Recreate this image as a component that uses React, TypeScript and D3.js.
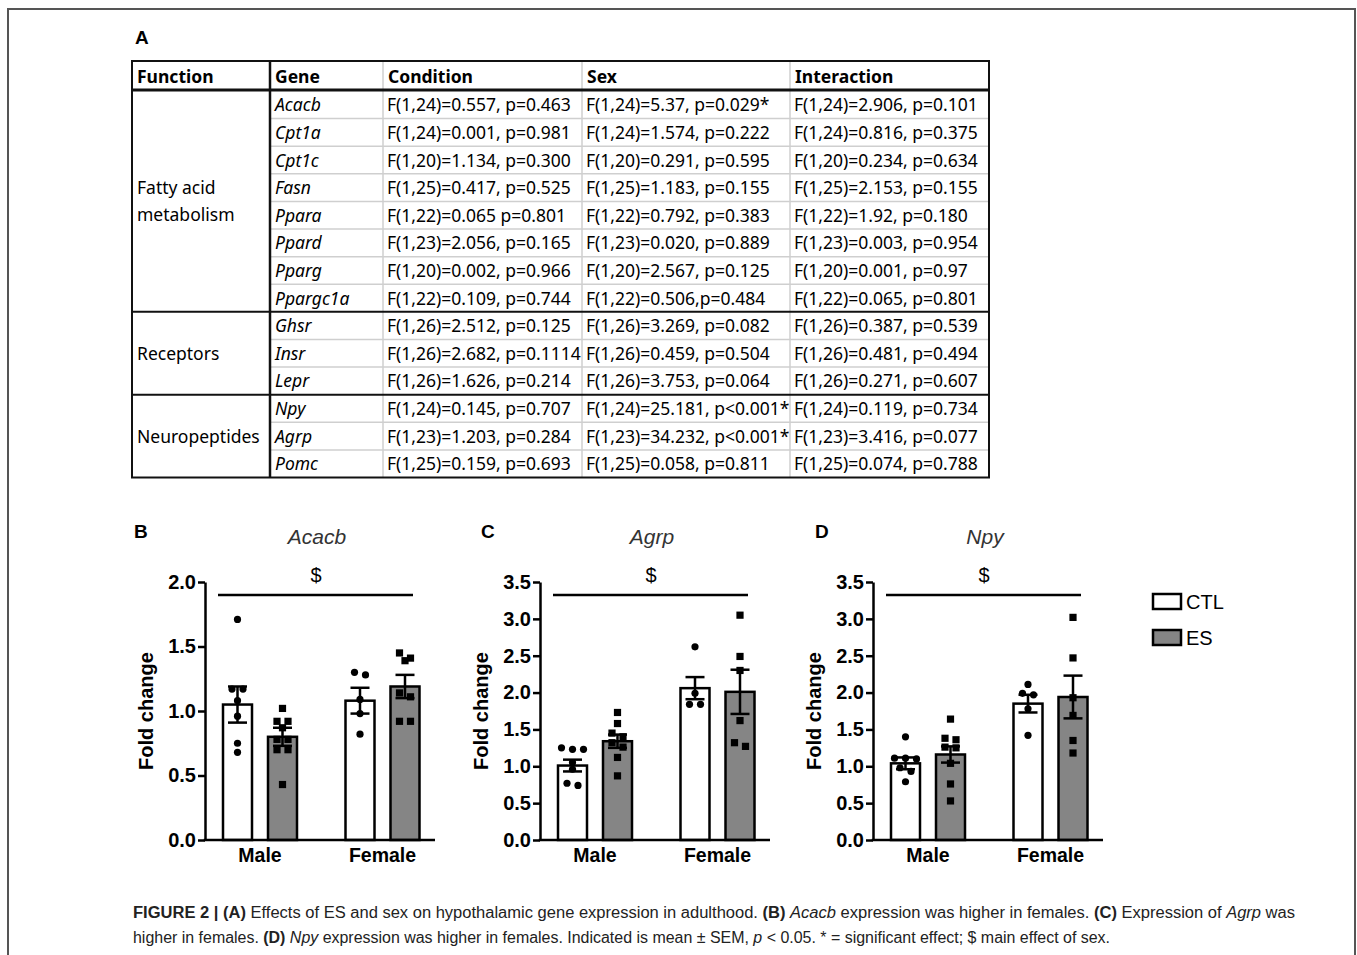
import { useEffect, useRef } from 'react';
import * as d3 from 'd3';

// ---- Table (panel A) ----
const TABLE_HEADERS = ['Function', 'Gene', 'Condition', 'Sex', 'Interaction'];
const FUNCTION_LABELS = [['Fatty acid', 'metabolism'], ['Receptors'], ['Neuropeptides']];
const FUNCTION_SIZES = [8, 3, 3];
const GENES = ['Acacb', 'Cpt1a', 'Cpt1c', 'Fasn', 'Ppara', 'Ppard', 'Pparg', 'Ppargc1a', 'Ghsr', 'Insr', 'Lepr', 'Npy', 'Agrp', 'Pomc'];
const CONDITION = [
  'F(1,24)=0.557, p=0.463', 'F(1,24)=0.001, p=0.981', 'F(1,20)=1.134, p=0.300', 'F(1,25)=0.417, p=0.525',
  'F(1,22)=0.065 p=0.801', 'F(1,23)=2.056, p=0.165', 'F(1,20)=0.002, p=0.966', 'F(1,22)=0.109, p=0.744',
  'F(1,26)=2.512, p=0.125', 'F(1,26)=2.682, p=0.1114', 'F(1,26)=1.626, p=0.214',
  'F(1,24)=0.145, p=0.707', 'F(1,23)=1.203, p=0.284', 'F(1,25)=0.159, p=0.693',
];
const SEX = [
  'F(1,24)=5.37, p=0.029*', 'F(1,24)=1.574, p=0.222', 'F(1,20)=0.291, p=0.595', 'F(1,25)=1.183, p=0.155',
  'F(1,22)=0.792, p=0.383', 'F(1,23)=0.020, p=0.889', 'F(1,20)=2.567, p=0.125', 'F(1,22)=0.506,p=0.484',
  'F(1,26)=3.269, p=0.082', 'F(1,26)=0.459, p=0.504', 'F(1,26)=3.753, p=0.064',
  'F(1,24)=25.181, p<0.001*', 'F(1,23)=34.232, p<0.001*', 'F(1,25)=0.058, p=0.811',
];
const INTERACTION = [
  'F(1,24)=2.906, p=0.101', 'F(1,24)=0.816, p=0.375', 'F(1,20)=0.234, p=0.634', 'F(1,25)=2.153, p=0.155',
  'F(1,22)=1.92, p=0.180', 'F(1,23)=0.003, p=0.954', 'F(1,20)=0.001, p=0.97', 'F(1,22)=0.065, p=0.801',
  'F(1,26)=0.387, p=0.539', 'F(1,26)=0.481, p=0.494', 'F(1,26)=0.271, p=0.607',
  'F(1,24)=0.119, p=0.734', 'F(1,23)=3.416, p=0.077', 'F(1,25)=0.074, p=0.788',
];

// ---- Bar charts (panels B-D) ----
const SEXES = ['Male', 'Female'];
const TREATMENTS = ['CTL', 'ES'];
// order of bars: Male CTL, Male ES, Female CTL, Female ES
const ACACB_MEAN = [1.05, 0.80, 1.08, 1.19];
const ACACB_SEM = [0.14, 0.07, 0.10, 0.09];
const ACACB_POINTS = [
  [1.71, 1.17, 1.17, 1.08, 0.96, 0.75, 0.68],
  [1.02, 0.92, 0.92, 0.87, 0.78, 0.78, 0.70, 0.70, 0.43],
  [1.30, 1.28, 1.09, 0.98, 0.82],
  [1.45, 1.41, 1.39, 1.14, 1.11, 0.92, 0.92],
];
const ACACB_TICKS = [0, 0.5, 1.0, 1.5, 2.0];

const AGRP_MEAN = [1.01, 1.34, 2.06, 2.01];
const AGRP_SEM = [0.08, 0.09, 0.15, 0.30];
const AGRP_POINTS = [
  [1.25, 1.23, 1.23, 1.05, 0.96, 0.77, 0.74],
  [1.73, 1.58, 1.45, 1.40, 1.32, 1.26, 1.12, 0.87],
  [2.62, 1.99, 1.84, 1.84],
  [3.05, 2.49, 2.30, 1.62, 1.32, 1.27],
];
const AGRP_TICKS = [0, 0.5, 1.0, 1.5, 2.0, 2.5, 3.0, 3.5];

const NPY_MEAN = [1.04, 1.16, 1.85, 1.94];
const NPY_SEM = [0.08, 0.11, 0.12, 0.29];
const NPY_POINTS = [
  [1.40, 1.11, 1.11, 1.10, 0.98, 0.93, 0.79],
  [1.64, 1.38, 1.36, 1.26, 1.25, 1.04, 0.76, 0.53],
  [2.11, 1.99, 1.97, 1.78, 1.42],
  [3.02, 2.47, 1.93, 1.69, 1.35, 1.18],
];
const NPY_TICKS = AGRP_TICKS;

const PANELS = [
  { letter: 'B', title: 'Acacb', mean: ACACB_MEAN, sem: ACACB_SEM, points: ACACB_POINTS, ticks: ACACB_TICKS, axisX: 205, letterX: 134 },
  { letter: 'C', title: 'Agrp', mean: AGRP_MEAN, sem: AGRP_SEM, points: AGRP_POINTS, ticks: AGRP_TICKS, axisX: 540, letterX: 481 },
  { letter: 'D', title: 'Npy', mean: NPY_MEAN, sem: NPY_SEM, points: NPY_POINTS, ticks: NPY_TICKS, axisX: 873, letterX: 815 },
];

const TREAT_FILL = ['#ffffff', '#858585'];
const CHART_FONT = '"Liberation Sans", Arial, sans-serif';
const TABLE_FONT = '"Noto Sans", sans-serif';

// spread points that sit at nearly the same height, like a column scatter
function spread(values: number[], y: (v: number) => number, gap: number, thresh: number) {
  const sorted = values.map((v) => ({ v, py: y(v) })).sort((a, b) => a.py - b.py);
  const rows: { v: number; py: number }[][] = [];
  sorted.forEach((p) => {
    const last = rows[rows.length - 1];
    if (last && p.py - last[0].py < thresh) last.push(p);
    else rows.push([p]);
  });
  return rows.flatMap((r) => r.map((p, i) => ({ ...p, dx: (i - (r.length - 1) / 2) * gap })));
}

export default function App() {
  const svgRef = useRef<SVGSVGElement>(null);

  useEffect(() => {
    const svg = d3.select(svgRef.current);
    svg.selectAll('*').remove();

    // outer frame
    svg.append('path')
      .attr('d', 'M8,960 V9 H1355 V960')
      .attr('fill', 'none')
      .attr('stroke', '#555')
      .attr('stroke-width', 2);

    svg.append('text')
      .attr('x', 135).attr('y', 44)
      .attr('font-family', CHART_FONT).attr('font-weight', 'bold').attr('font-size', 19)
      .text('A');

    // ---- table ----
    const colX = [132, 270, 383, 582, 790, 989];
    const top = 61;
    const headBottom = 90;
    const rowScale = d3.scaleBand<string>().domain(GENES).range([91, 477.5]);
    const bottom = 477.5;
    const t = svg.append('g').attr('font-family', TABLE_FONT).attr('font-size', 17.5);

    // light row separators within groups
    let start = 0;
    const groupEdges: number[] = [];
    FUNCTION_SIZES.forEach((n) => {
      for (let i = 1; i < n; i++) {
        const yy = rowScale(GENES[start + i]) as number;
        t.append('line').attr('x1', colX[1]).attr('x2', colX[5]).attr('y1', yy).attr('y2', yy)
          .attr('stroke', '#cfcfcf').attr('stroke-width', 1.5);
      }
      start += n;
      if (start < GENES.length) groupEdges.push(rowScale(GENES[start]) as number);
    });
    [2, 3, 4].forEach((c) => {
      t.append('line').attr('x1', colX[c]).attr('x2', colX[c]).attr('y1', top).attr('y2', bottom)
        .attr('stroke', '#cfcfcf').attr('stroke-width', 1.5);
    });
    groupEdges.forEach((yy) => {
      t.append('line').attr('x1', colX[0]).attr('x2', colX[5]).attr('y1', yy).attr('y2', yy)
        .attr('stroke', '#111').attr('stroke-width', 2);
    });
    t.append('line').attr('x1', colX[1]).attr('x2', colX[1]).attr('y1', top).attr('y2', bottom)
      .attr('stroke', '#111').attr('stroke-width', 2.5);
    t.append('line').attr('x1', colX[0]).attr('x2', colX[5]).attr('y1', headBottom).attr('y2', headBottom)
      .attr('stroke', '#111').attr('stroke-width', 3);
    t.append('rect').attr('x', colX[0]).attr('y', top).attr('width', colX[5] - colX[0]).attr('height', bottom - top)
      .attr('fill', 'none').attr('stroke', '#111').attr('stroke-width', 2);

    TABLE_HEADERS.forEach((h, i) => {
      t.append('text').attr('x', colX[i] + 5).attr('y', (top + headBottom) / 2 + 7)
        .attr('font-weight', 'bold').text(h);
    });

    const bw = rowScale.bandwidth();
    GENES.forEach((g, i) => {
      const cy = (rowScale(g) as number) + bw / 2 + 6.5;
      t.append('text').attr('x', colX[1] + 5).attr('y', cy).attr('font-style', 'italic').text(g);
      t.append('text').attr('x', colX[2] + 4).attr('y', cy).text(CONDITION[i]);
      t.append('text').attr('x', colX[3] + 4).attr('y', cy).text(SEX[i]);
      t.append('text').attr('x', colX[4] + 4).attr('y', cy).text(INTERACTION[i]);
    });

    start = 0;
    FUNCTION_SIZES.forEach((n, gi) => {
      const y0 = rowScale(GENES[start]) as number;
      const y1 = (rowScale(GENES[start + n - 1]) as number) + bw;
      const mid = (y0 + y1) / 2;
      const lines = FUNCTION_LABELS[gi];
      lines.forEach((l, li) => {
        t.append('text').attr('x', colX[0] + 5)
          .attr('y', mid + 6.5 + (li - (lines.length - 1) / 2) * 27)
          .text(l);
      });
      start += n;
    });

    // ---- bar panels ----
    const axisLen = 230;
    const barW = 29;
    const barGap = 16;

    PANELS.forEach((p) => {
      const g = svg.append('g').attr('font-family', CHART_FONT);
      const maxV = p.ticks[p.ticks.length - 1];
      const y = d3.scaleLinear().domain([0, maxV]).range([840, 582]);
      const xSex = d3.scalePoint<string>().domain(SEXES).range([p.axisX + 55, p.axisX + 55 + 122.5]);
      const xTreat = d3.scalePoint<string>().domain(TREATMENTS).range([-(barW + barGap) / 2, (barW + barGap) / 2]);
      const barX = (i: number) => (xSex(SEXES[Math.floor(i / 2)]) as number) + (xTreat(TREATMENTS[i % 2]) as number);

      g.append('text').attr('x', p.letterX).attr('y', 538)
        .attr('font-weight', 'bold').attr('font-size', 19).text(p.letter);
      g.append('text').attr('x', p.axisX + 112).attr('y', 544).attr('text-anchor', 'middle')
        .attr('font-style', 'italic').attr('font-size', 21).attr('fill', '#333').text(p.title);

      // significance line
      g.append('line').attr('x1', p.axisX + 13).attr('x2', p.axisX + 208)
        .attr('y1', 595).attr('y2', 595).attr('stroke', '#000').attr('stroke-width', 2.5);
      g.append('text').attr('x', p.axisX + 111).attr('y', 582).attr('text-anchor', 'middle')
        .attr('font-size', 20).text('$');

      // bars
      p.mean.forEach((m, i) => {
        g.append('rect')
          .attr('x', barX(i) - barW / 2).attr('y', y(m))
          .attr('width', barW).attr('height', y(0) - y(m))
          .attr('fill', TREAT_FILL[i % 2]).attr('stroke', '#000').attr('stroke-width', 2.5);
      });

      // points
      p.points.forEach((vals, i) => {
        const pts = spread(vals, y, 11, 6);
        pts.forEach((pt) => {
          if (i % 2 === 0) {
            g.append('circle').attr('cx', barX(i) + pt.dx).attr('cy', pt.py).attr('r', 3.6).attr('fill', '#000');
          } else {
            g.append('rect').attr('x', barX(i) + pt.dx - 3.6).attr('y', pt.py - 3.6)
              .attr('width', 7.2).attr('height', 7.2).attr('fill', '#000');
          }
        });
      });

      // error bars
      p.mean.forEach((m, i) => {
        const cx = barX(i);
        const lo = y(m - p.sem[i]);
        const hi = y(m + p.sem[i]);
        g.append('line').attr('x1', cx).attr('x2', cx).attr('y1', lo).attr('y2', hi)
          .attr('stroke', '#000').attr('stroke-width', 2.5);
        [lo, hi].forEach((yy) => {
          g.append('line').attr('x1', cx - 9.5).attr('x2', cx + 9.5).attr('y1', yy).attr('y2', yy)
            .attr('stroke', '#000').attr('stroke-width', 2.5);
        });
      });

      // axes
      g.append('g')
        .attr('transform', `translate(${p.axisX},0)`)
        .call(d3.axisLeft(y).tickValues(p.ticks).tickSize(7).tickSizeOuter(0).tickPadding(2).tickFormat(d3.format('.1f')))
        .call((a) => a.select('.domain').attr('stroke-width', 2.5))
        .call((a) => a.selectAll('.tick line').attr('stroke-width', 2.5))
        .call((a) => a.selectAll('.tick text')
          .attr('font-family', CHART_FONT).attr('font-weight', 'bold').attr('font-size', 20).attr('fill', '#000'));
      g.append('line').attr('x1', p.axisX - 1.25).attr('x2', p.axisX + axisLen)
        .attr('y1', y(0)).attr('y2', y(0)).attr('stroke', '#000').attr('stroke-width', 2.5);

      SEXES.forEach((s) => {
        g.append('text').attr('x', xSex(s) as number).attr('y', 862).attr('text-anchor', 'middle')
          .attr('font-weight', 'bold').attr('font-size', 19.5).text(s);
      });

      g.append('text')
        .attr('transform', `translate(${p.axisX - 52},${(y(0) + y(maxV)) / 2}) rotate(-90)`)
        .attr('text-anchor', 'middle')
        .attr('font-weight', 'bold').attr('font-size', 20).text('Fold change');
    });

    // legend
    const lg = svg.append('g').attr('font-family', CHART_FONT);
    TREATMENTS.forEach((tr, i) => {
      const yy = 594 + i * 36;
      lg.append('rect').attr('x', 1153).attr('y', yy).attr('width', 28).attr('height', 15)
        .attr('fill', TREAT_FILL[i]).attr('stroke', '#000').attr('stroke-width', 2.5);
      lg.append('text').attr('x', 1186).attr('y', yy + 15).attr('font-size', 20).text(tr);
    });

    // caption
    const cap = svg.append('g').attr('font-family', CHART_FONT).attr('font-size', 16).attr('fill', '#222');
    const line1 = cap.append('text').attr('x', 133).attr('y', 918)
      .attr('textLength', 1162).attr('lengthAdjust', 'spacingAndGlyphs');
    const seg1: [string, string][] = [
      ['b', 'FIGURE 2 | (A)'], ['n', ' Effects of ES and sex on hypothalamic gene expression in adulthood. '],
      ['b', '(B) '], ['i', 'Acacb'], ['n', ' expression was higher in females. '], ['b', '(C)'],
      ['n', ' Expression of '], ['i', 'Agrp'], ['n', ' was'],
    ];
    const line2 = cap.append('text').attr('x', 133).attr('y', 943)
      .attr('textLength', 977).attr('lengthAdjust', 'spacingAndGlyphs');
    const seg2: [string, string][] = [
      ['n', 'higher in females. '], ['b', '(D) '], ['i', 'Npy'],
      ['n', ' expression was higher in females. Indicated is mean \u00b1 SEM, '], ['i', 'p'],
      ['n', ' < 0.05. * = significant effect; $ main effect of sex.'],
    ];
    const addSegs = (el: d3.Selection<SVGTextElement, unknown, null, undefined>, segs: [string, string][]) => {
      segs.forEach(([k, s]) => {
        el.append('tspan')
          .attr('font-weight', k === 'b' ? 'bold' : 'normal')
          .attr('font-style', k === 'i' ? 'italic' : 'normal')
          .text(s);
      });
    };
    addSegs(line1, seg1);
    addSegs(line2, seg2);
  }, []);

  return (
    <div style={{ position: 'absolute', left: 0, top: 0 }}>
      <svg ref={svgRef} width={1357} height={955} style={{ display: 'block', background: '#fff' }} />
    </div>
  );
}
